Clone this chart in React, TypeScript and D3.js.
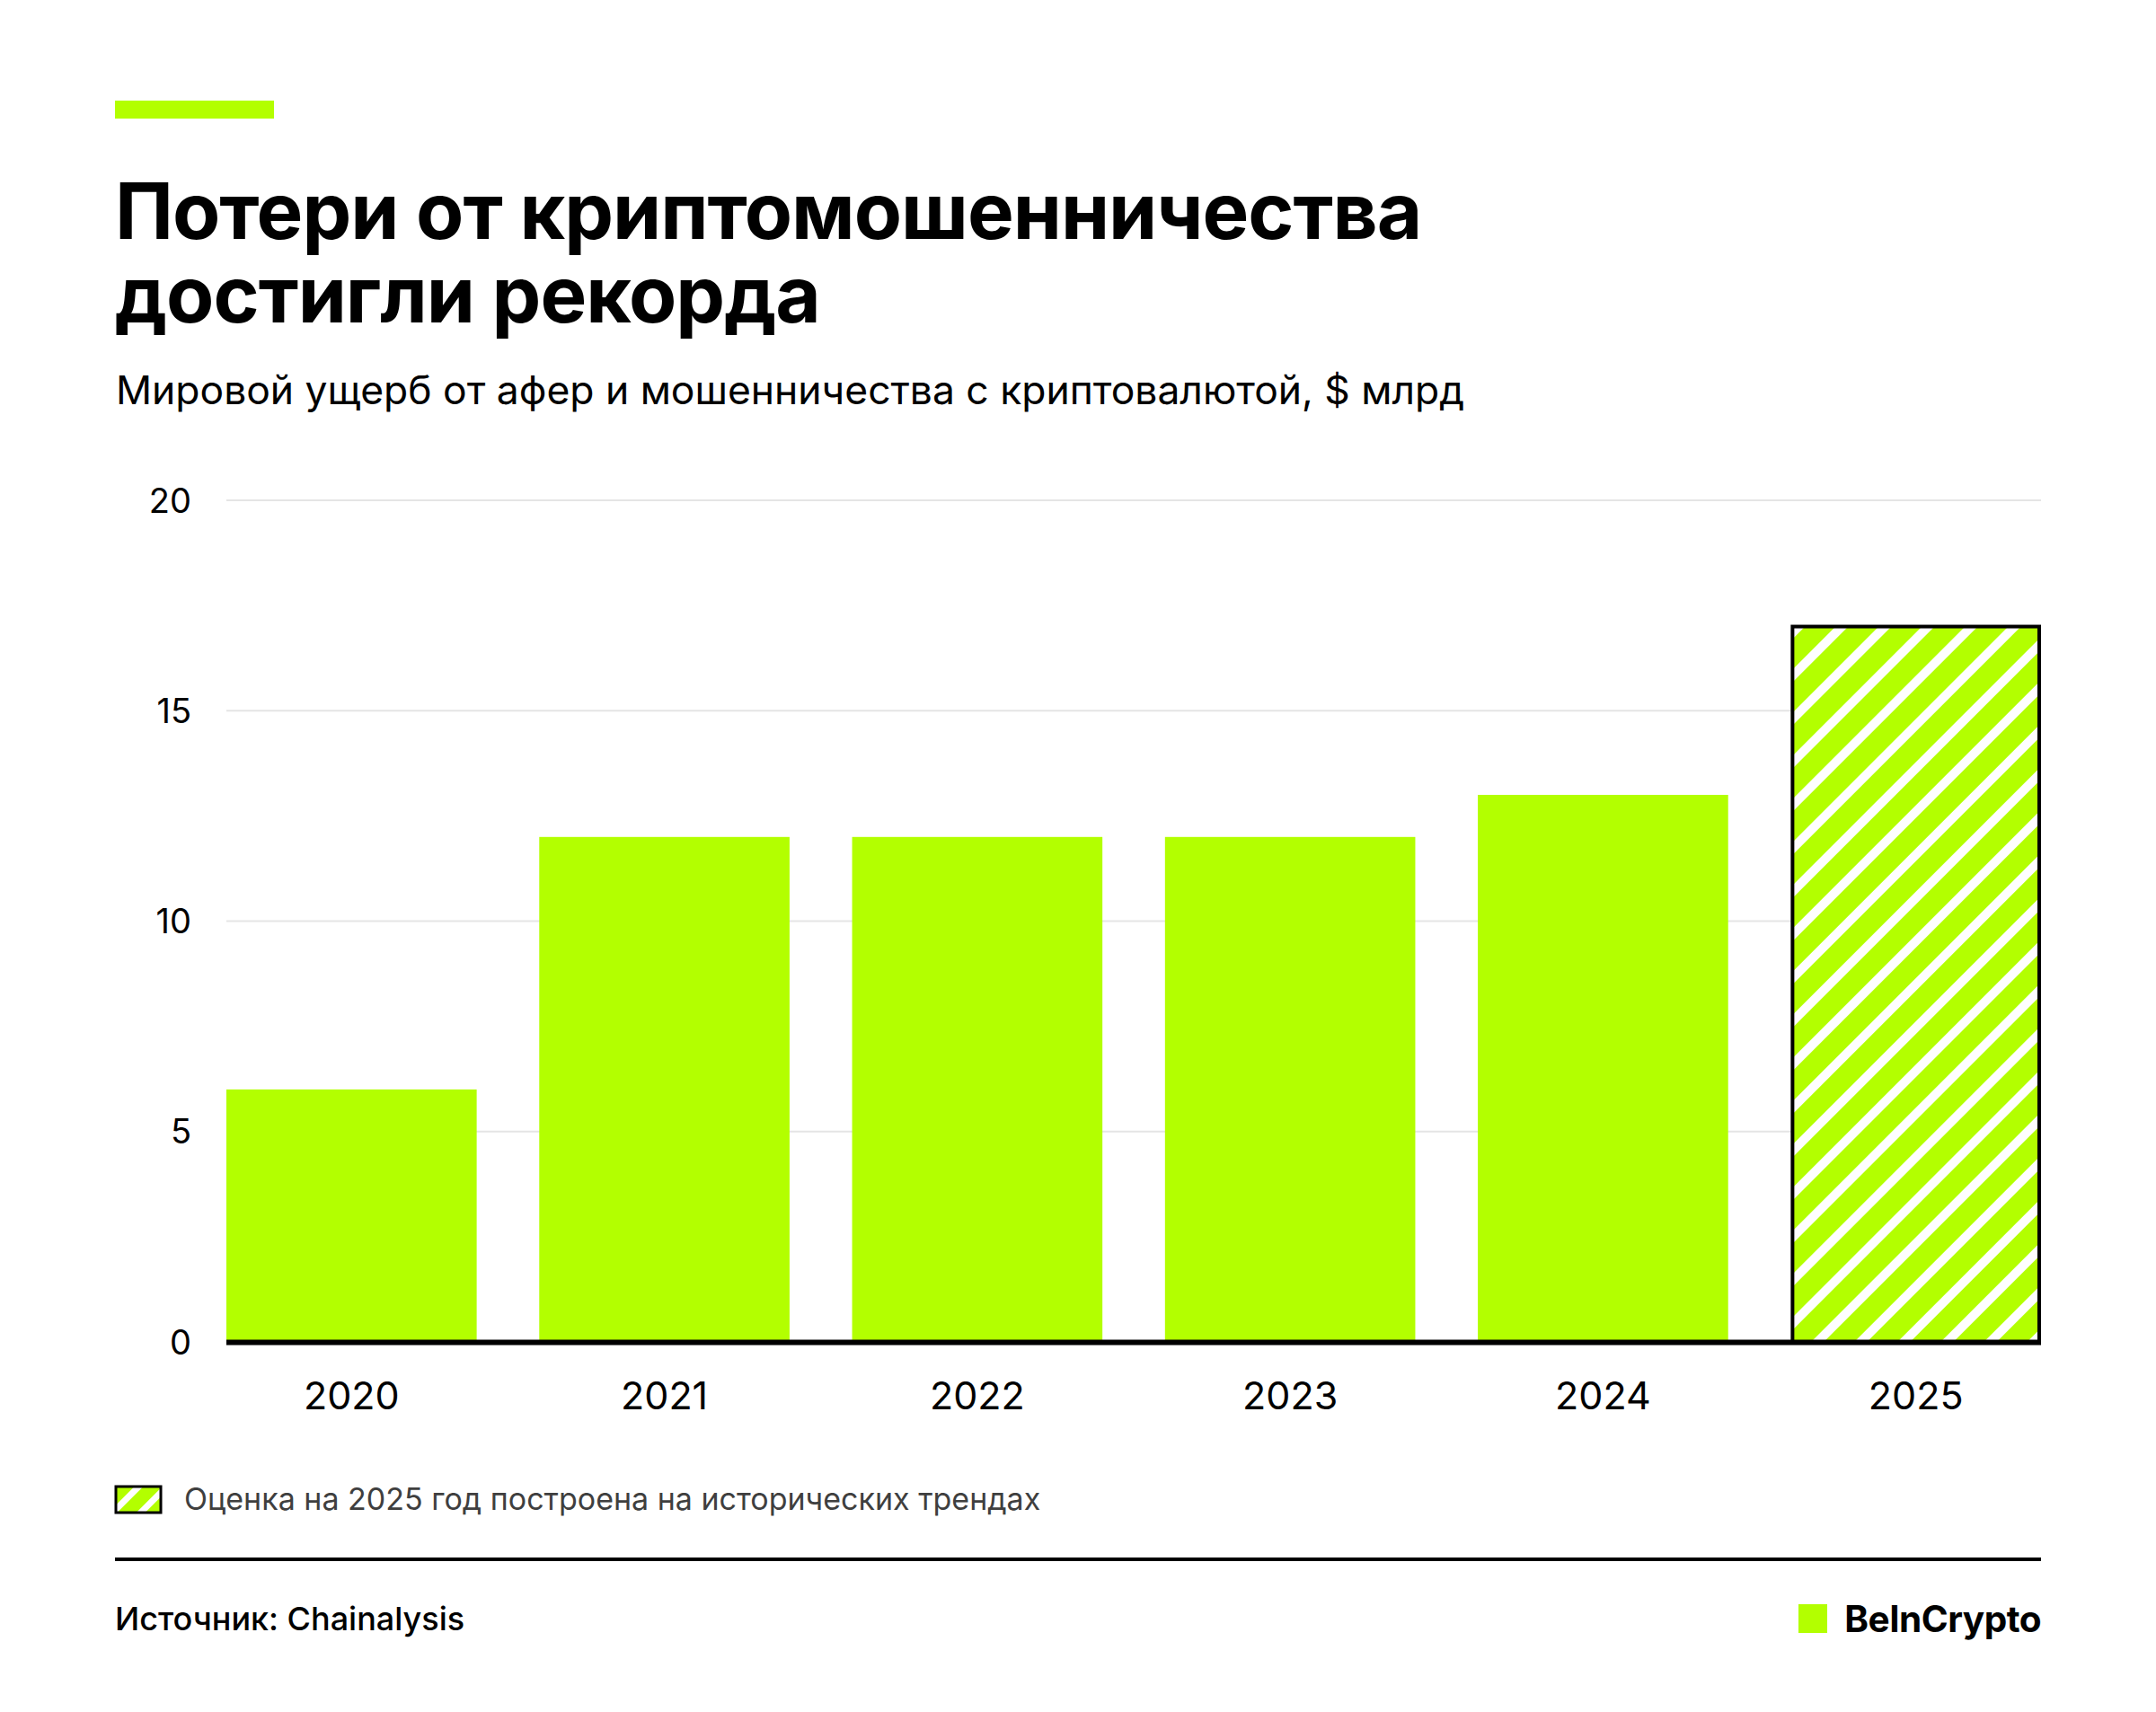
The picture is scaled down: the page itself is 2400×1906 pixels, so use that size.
import React from 'react';
import * as d3 from 'd3';

const years = ['2020', '2021', '2022', '2023', '2024', '2025'];
const losses = [6, 12, 12, 12, 13, 17];
const estimated = [false, false, false, false, false, true];
const yTicks = [0, 5, 10, 15, 20];

const titleLines = ['Потери от криптомошенничества', 'достигли рекорда'];
const subtitle = 'Мировой ущерб от афер и мошенничества с криптовалютой, $ млрд';
const legendText = 'Оценка на 2025 год построена на исторических трендах';
const sourceText = 'Источник: Chainalysis';
const brand = 'BeInCrypto';

const W = 2400;
const H = 1906;
const GREEN = '#b3ff00';
const FONT = 'Inter, "Noto Sans", sans-serif';

const left = 252;
const right = 2272;
const top = 557;
const bottom = 1494;

export default function App() {
  const x = d3.scaleBand<string>().domain(years).range([left, right]).paddingInner(0.2).paddingOuter(0);
  const y = d3.scaleLinear().domain([0, 20]).range([bottom, top]);

  return (
    <div style={{ position: 'absolute', left: 0, top: 0 }}>
      <svg width={W} height={H} viewBox={`0 0 ${W} ${H}`} style={{ display: 'block', fontFamily: FONT }}>
        <defs>
          <pattern id="hatch" patternUnits="userSpaceOnUse" width={34} height={34} patternTransform="rotate(45)">
            <rect width={34} height={34} fill={GREEN} />
            <rect x={0} width={10} height={34} fill="#ffffff" />
          </pattern>
          <pattern id="hatchSmall" patternUnits="userSpaceOnUse" width={22} height={22} patternTransform="rotate(45)">
            <rect width={22} height={22} fill={GREEN} />
            <rect x={0} width={7} height={22} fill="#ffffff" />
          </pattern>
        </defs>
        <rect width={W} height={H} fill="#ffffff" />

        {/* accent bar */}
        <rect x={128} y={112} width={177} height={20} fill={GREEN} />

        {/* title, two lines in one text block */}
        <text x={128} y={266} fontSize={87} fontWeight={700} fill="#000" letterSpacing={-1}>
          {titleLines.map((t, i) => (
            <tspan key={t} x={128} dy={i === 0 ? 0 : 93}>
              {t}
            </tspan>
          ))}
        </text>
        <text x={129} y={450} fontSize={44.4} fill="#000">
          {subtitle}
        </text>

        {/* grid + y ticks */}
        {yTicks.map((t) => (
          <g key={t}>
            {t > 0 && <line x1={left} x2={right} y1={y(t)} y2={y(t)} stroke="#e5e5e5" strokeWidth={2} />}
            <text x={213} y={y(t)} dy="0.36em" textAnchor="end" fontSize={38} fill="#000">
              {t}
            </text>
          </g>
        ))}

        {/* bars */}
        {years.map((yr, i) => {
          const bx = x(yr)!;
          const bw = x.bandwidth();
          const by = y(losses[i]);
          return estimated[i] ? (
            <rect key={yr} x={bx + 2} y={by} width={bw - 4} height={bottom - by} fill="url(#hatch)" stroke="#000" strokeWidth={4} />
          ) : (
            <rect key={yr} x={bx} y={by} width={bw} height={bottom - by} fill={GREEN} />
          );
        })}

        {/* zero axis */}
        <line x1={left} x2={right} y1={y(0) + 0.5} y2={y(0) + 0.5} stroke="#000" strokeWidth={6} />

        {/* x labels */}
        {years.map((yr) => (
          <text key={yr} x={x(yr)! + x.bandwidth() / 2} y={1569} textAnchor="middle" fontSize={43} fill="#000">
            {yr}
          </text>
        ))}

        {/* legend */}
        <rect x={129} y={1655} width={50} height={29} fill="url(#hatchSmall)" stroke="#000" strokeWidth={3} />
        <text x={205} y={1681} fontSize={34} fill="#3f3f3f">
          {legendText}
        </text>

        {/* footer */}
        <line x1={128} x2={right} y1={1736} y2={1736} stroke="#000" strokeWidth={4} />
        <text x={128} y={1815} fontSize={36} fontWeight={500} fill="#000">
          {sourceText}
        </text>
        <rect x={2002} y={1786} width={32} height={32} fill={GREEN} />
        <text x={right} y={1817} textAnchor="end" fontSize={40.5} fontWeight={700} fill="#000" letterSpacing={-0.5}>
          {brand}
        </text>
      </svg>
    </div>
  );
}
